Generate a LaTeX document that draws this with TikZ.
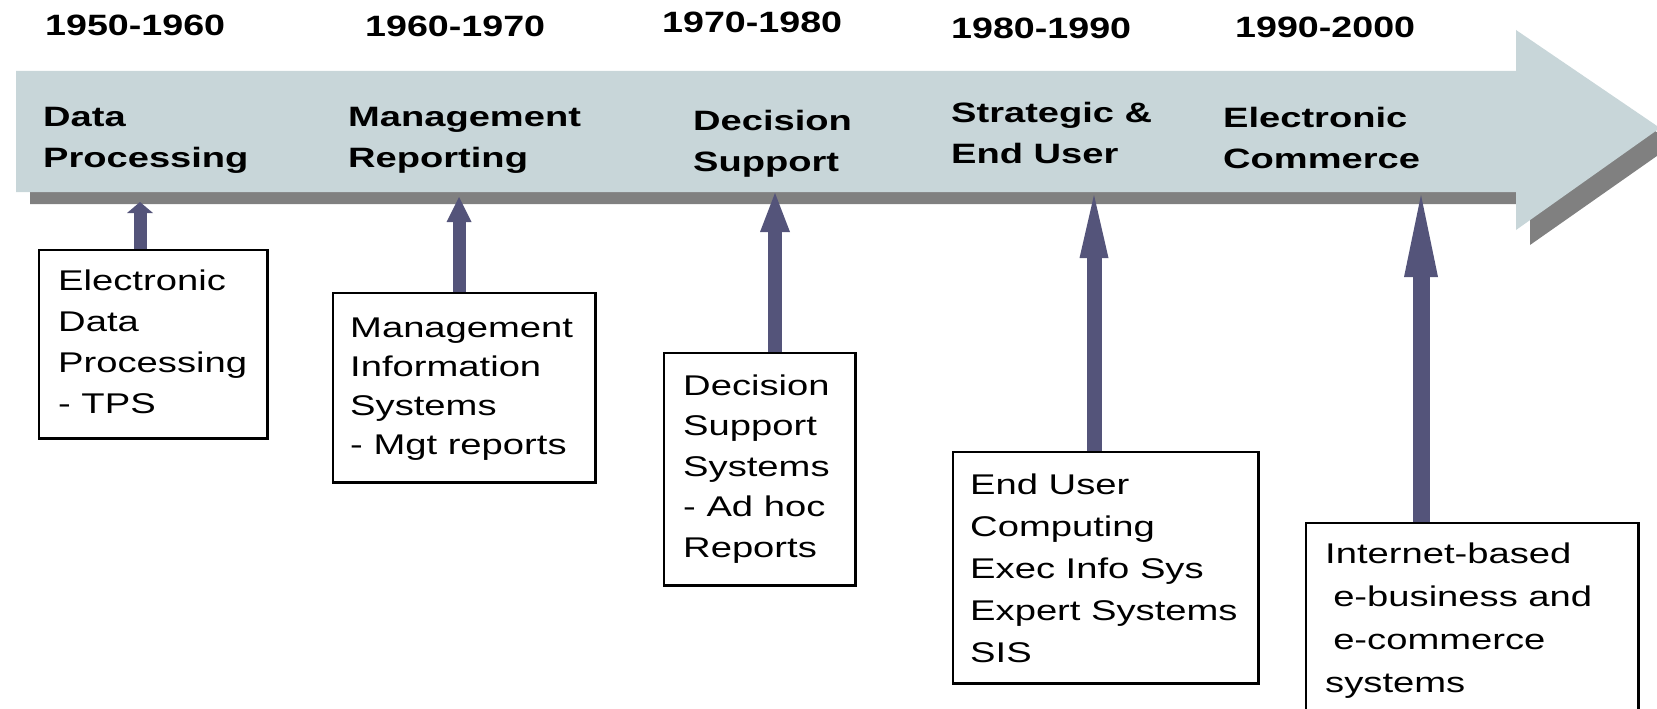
\documentclass[tikz,border=0pt]{standalone}
\usepackage{fontspec}
\setmainfont{Liberation Sans}
\usetikzlibrary{arrows.meta,fit}
\definecolor{bandfill}{RGB}{200,214,217}
\definecolor{bandshadow}{RGB}{128,128,128}
\definecolor{arrowblue}{RGB}{84,84,122}
\newcommand{\sx}[2]{\scalebox{#1}[1]{#2}}
\newcommand{\stack}[1]{\begin{tabular}[t]{@{}l@{}}#1\end{tabular}}
\begin{document}
\begin{tikzpicture}[x=1pt,y=-1pt,
  yearlbl/.style={anchor=base west, inner sep=0pt, font=\fontsize{29.4}{35}\selectfont\bfseries},
  eralbl/.style={anchor=base west, inner sep=0pt, font=\fontsize{28}{41}\selectfont\bfseries},
  boxtxt/.style={anchor=base west, inner sep=0pt, font=\fontsize{28.5}{#1}\selectfont},
  boxfrm/.style={draw=black, line width=1.5pt, fill=white, inner sep=0pt},
  uparrow/.style n args={3}{draw=arrowblue, line width=#1, -{Triangle[width=#2, length=#3, line width=0pt]}}
]
\useasboundingbox (0,0) rectangle (1657,709);
\clip (0,0) rectangle (1657,709);
% big timeline arrow
\fill[bandshadow] (30,84) -- (1530,84) -- (1530,45) -- (1674,144) -- (1530,245) -- (1530,204) -- (30,204) -- cycle;
\fill[bandfill] (16,71) -- (1516,71) -- (1516,30) -- (1660,128) -- (1516,230) -- (1516,192) -- (16,192) -- cycle;

% tip points on the band
\coordinate (p1) at (140,202);
\coordinate (p2) at (459,197);
\coordinate (p3) at (775,193);
\coordinate (p4) at (1094,195);
\coordinate (p5) at (1421,195);

% boxes
\node[boxfrm, fit={(39,250) (267,438)}] (b1) {};
\node[boxfrm, fit={(333,293) (595,482)}] (b2) {};
\node[boxfrm, fit={(664,353) (855,585)}] (b3) {};
\node[boxfrm, fit={(953,452) (1258,683)}] (b4) {};
\node[boxfrm, fit={(1306,523) (1638,730)}] (b5) {};

% arrows from boxes to band
\draw[uparrow={13pt}{26pt}{11pt}] (b1.north -| p1) -- (p1);
\draw[uparrow={13pt}{25pt}{25pt}] (b2.north -| p2) -- (p2);
\draw[uparrow={14pt}{30pt}{39pt}] (b3.north -| p3) -- (p3);
\draw[uparrow={15pt}{29pt}{63pt}] (b4.north -| p4) -- (p4);
\draw[uparrow={17pt}{34pt}{82pt}] (b5.north -| p5) -- (p5);

% redraw box frames over shaft ends
\draw[line width=1.5pt] (b1.north west) rectangle (b1.south east);
\draw[line width=1.5pt] (b2.north west) rectangle (b2.south east);
\draw[line width=1.5pt] (b3.north west) rectangle (b3.south east);
\draw[line width=1.5pt] (b4.north west) rectangle (b4.south east);
\draw[line width=1.5pt] (b5.north west) rectangle (b5.south east);

% year labels
\node[yearlbl] (y1) at (45,36) {\sx{1.28}{1950-1960}};
\node[yearlbl] (y2) at (365,37) {\sx{1.28}{1960-1970}};
\node[yearlbl] (y3) at (662,33) {\sx{1.28}{1970-1980}};
\node[yearlbl] (y4) at (951,39) {\sx{1.28}{1980-1990}};
\node[yearlbl] (y5) at (1235,38) {\sx{1.28}{1990-2000}};

% era labels on the band
\node[eralbl] (e1) at (43,126) {\sx{1.36}{\stack{Data\\Processing}}};
\node[eralbl] (e2) at (348,126) {\sx{1.36}{\stack{Management\\Reporting}}};
\node[eralbl] (e3) at (693,130) {\sx{1.36}{\stack{Decision\\Support}}};
\node[eralbl] (e4) at (951,122) {\sx{1.36}{\stack{Strategic \&\\End User}}};
\node[eralbl] (e5) at (1223,127) {\sx{1.36}{\stack{Electronic\\Commerce}}};

% box texts
\node[boxtxt=41] (t1) at (58,290) {\sx{1.34}{\stack{Electronic\\Data\\Processing\\- TPS}}};
\node[boxtxt=39] (t2) at (350,337) {\sx{1.34}{\stack{Management\\Information\\Systems\\- Mgt reports}}};
\node[boxtxt=40.5] (t3) at (683,395) {\sx{1.34}{\stack{Decision\\Support\\Systems\\- Ad hoc\\Reports}}};
\node[boxtxt=42] (t4) at (970,494) {\sx{1.34}{\stack{End User\\Computing\\Exec Info Sys\\Expert Systems\\SIS}}};
\node[boxtxt=43] (t5) at (1325,563) {\sx{1.34}{\stack{Internet-based\\\hspace{6pt}e-business and\\\hspace{6pt}e-commerce\\systems}}};
\end{tikzpicture}
\end{document}
